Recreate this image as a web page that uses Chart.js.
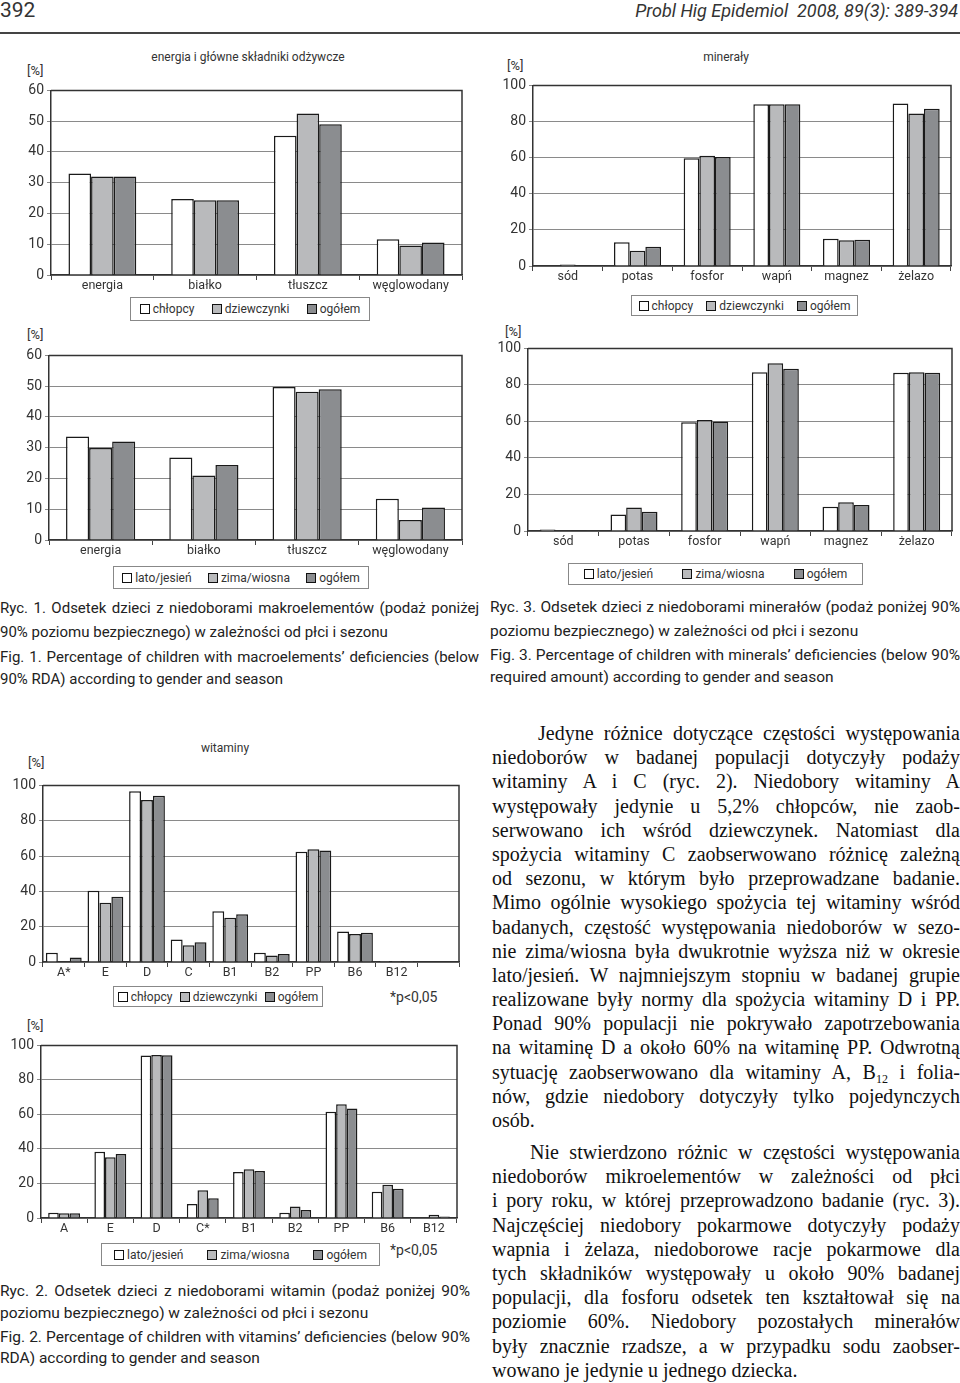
<!DOCTYPE html>
<html lang="pl">
<head>
<meta charset="utf-8">
<script src="https://cdn.jsdelivr.net/npm/chart.js@4.4.1/dist/chart.umd.min.js"></script>
<style>
  body { margin: 0; background: #fff; }
  #page { position: relative; width: 960px; height: 1383px; overflow: hidden; font-family: Roboto, sans-serif; color: #222; }
  .abs { position: absolute; }
  canvas { position: absolute; }
  .ttl { position: absolute; font-size: 12px; color: #333; transform: translate(-50%, -50%); white-space: nowrap; }
  .pct { position: absolute; font-size: 13px; color: #333; transform: translateY(-50%); }
  .lg { position: absolute; box-sizing: border-box; border: 1px solid #888; display: flex; align-items: center; justify-content: space-around; font-size: 12px; color: #333; }
  .lg .sw { display: inline-block; width: 10px; height: 10px; box-sizing: border-box; border: 1.5px solid #111; margin-right: 3px; vertical-align: -1px; }
  .cap { position: absolute; font-size: 15.5px; color: #222; }
  .cap div, .body div { height: 24px; line-height: 24px; }
  .j { text-align: justify; text-align-last: justify; }
  .body { position: absolute; left: 492px; width: 468px; font-family: "Liberation Serif", serif; font-size: 20px; color: #111; }
  .body div { height: 24.2px; line-height: 24.2px; }
  .body sub { font-size: 12px; vertical-align: -4px; line-height: 0; }
</style>
</head>
<body>
<div id="page">
  <div class="abs" style="left:0;top:-2px;font-size:21px;color:#333">392</div>
  <div class="abs" style="right:2px;top:0;font-size:18px;font-style:italic;color:#333">Probl Hig Epidemiol&nbsp;&nbsp;2008, 89(3): 389-394</div>
  <div class="abs" style="left:0;top:32px;width:960px;height:2px;background:#444"></div>

  <div class="ttl" style="left:248px;top:57px">energia i główne składniki odżywcze</div>
  <div class="ttl" style="left:726px;top:57px">minerały</div>
  <div class="ttl" style="left:225px;top:748px">witaminy</div>

  <div class="pct" style="left:27px;top:70px">[%]</div>
  <div class="pct" style="left:27px;top:334px">[%]</div>
  <div class="pct" style="left:507px;top:65px">[%]</div>
  <div class="pct" style="left:505px;top:331px">[%]</div>
  <div class="pct" style="left:28px;top:762px">[%]</div>
  <div class="pct" style="left:27px;top:1025px">[%]</div>

  <canvas id="macroGender"></canvas>
  <canvas id="macroSeason"></canvas>
  <canvas id="mineralGender"></canvas>
  <canvas id="mineralSeason"></canvas>
  <canvas id="vitGender"></canvas>
  <canvas id="vitSeason"></canvas>

  <div class="lg" id="lg1"></div>
  <div class="lg" id="lg2"></div>
  <div class="lg" id="lg3"></div>
  <div class="lg" id="lg4"></div>
  <div class="lg" id="lg5"></div>
  <div class="lg" id="lg6"></div>
  <div class="pct" style="left:390px;top:997px;font-size:14px">*p&lt;0,05</div>
  <div class="pct" style="left:390px;top:1250px;font-size:14px">*p&lt;0,05</div>

  <div class="cap" style="left:0;top:596px;width:479px;font-size:15px">
    <div class="j">Ryc. 1. Odsetek dzieci z niedoborami makroelementów (podaż poniżej</div>
    <div>90% poziomu bezpiecznego) w zależności od płci i sezonu</div>
    <div class="j" style="margin-top:1px">Fig. 1. Percentage of children with macroelements’ deficiencies (below</div>
    <div style="margin-top:-2px">90% RDA) according to gender and season</div>
  </div>
  <div class="cap" style="left:490px;top:595px;width:470px">
    <div class="j">Ryc. 3. Odsetek dzieci z niedoborami minerałów (podaż poniżej 90%</div>
    <div>poziomu bezpiecznego) w zależności od płci i sezonu</div>
    <div class="j">Fig. 3. Percentage of children with minerals’ deficiencies (below 90%</div>
    <div style="margin-top:-2px">required amount) according to gender and season</div>
  </div>
  <div class="cap" style="left:0;top:1279px;width:470px">
    <div class="j">Ryc. 2. Odsetek dzieci z niedoborami witamin (podaż poniżej 90%</div>
    <div style="margin-top:-2px">poziomu bezpiecznego) w zależności od płci i sezonu</div>
    <div class="j">Fig. 2. Percentage of children with vitamins’ deficiencies (below 90%</div>
    <div style="margin-top:-3px">RDA) according to gender and season</div>
  </div>

  <div class="body" style="top:721px">
    <div class="j" style="padding-left:46px">Jedyne różnice dotyczące częstości występowania</div>
    <div class="j">niedoborów w badanej populacji dotyczyły podaży</div>
    <div class="j">witaminy A i C (ryc. 2). Niedobory witaminy A</div>
    <div class="j">występowały jedynie u 5,2% chłopców, nie zaob-</div>
    <div class="j">serwowano ich wśród dziewczynek. Natomiast dla</div>
    <div class="j">spożycia witaminy C zaobserwowano różnicę zależną</div>
    <div class="j">od sezonu, w którym było przeprowadzane badanie.</div>
    <div class="j">Mimo ogólnie wysokiego spożycia tej witaminy wśród</div>
    <div class="j">badanych, częstość występowania niedoborów w sezo-</div>
    <div class="j">nie zima/wiosna była dwukrotnie wyższa niż w okresie</div>
    <div class="j">lato/jesień. W najmniejszym stopniu w badanej grupie</div>
    <div class="j">realizowane były normy dla spożycia witaminy D i PP.</div>
    <div class="j">Ponad 90% populacji nie pokrywało zapotrzebowania</div>
    <div class="j">na witaminę D a około 60% na witaminę PP. Odwrotną</div>
    <div class="j">sytuację zaobserwowano dla witaminy A, B<sub>12</sub> i folia-</div>
    <div class="j">nów, gdzie niedobory dotyczyły tylko pojedynczych</div>
    <div>osób.</div>
  </div>
  <div class="body" style="top:1140px">
    <div class="j" style="padding-left:38px">Nie stwierdzono różnic w częstości występowania</div>
    <div class="j">niedoborów mikroelementów w zależności od płci</div>
    <div class="j">i pory roku, w której przeprowadzono badanie (ryc. 3).</div>
    <div class="j">Najczęściej niedobory pokarmowe dotyczyły podaży</div>
    <div class="j">wapnia i żelaza, niedoborowe racje pokarmowe dla</div>
    <div class="j">tych składników występowały u około 90% badanej</div>
    <div class="j">populacji, dla fosforu odsetek ten kształtował się na</div>
    <div class="j">poziomie 60%. Niedobory pozostałych minerałów</div>
    <div class="j">były znacznie rzadsze, a w przypadku sodu zaobser-</div>
    <div>wowano je jedynie u jednego dziecka.</div>
  </div>
</div>

<script>
// categories
const macroCats = ["energia", "białko", "tłuszcz", "węglowodany"];
const mineralCats = ["sód", "potas", "fosfor", "wapń", "magnez", "żelazo"];
const vitCatsGender = ["A*", "E", "D", "C", "B1", "B2", "PP", "B6", "B12", ""];
const vitCatsSeason = ["A", "E", "D", "C*", "B1", "B2", "PP", "B6", "B12"];

// series names
const genderLabels = ["chłopcy", "dziewczynki", "ogółem"];
const seasonLabels = ["lato/jesień", "zima/wiosna", "ogółem"];

// y tick labels
const macroTicks = [0, 10, 20, 30, 40, 50, 60];
const pctTicks = [0, 20, 40, 60, 80, 100];

// macroelements [%]
const macroBoys = [33, 24.7, 45.3, 11.6];
const macroGirls = [32, 24.3, 52.5, 9.6];
const macroTotalG = [32, 24.3, 49, 10.6];
const macroSummer = [33.6, 26.8, 49.7, 13.4];
const macroWinter = [29.9, 21, 48.2, 6.5];
const macroTotalS = [32, 24.4, 49, 10.6];

// minerals [%]
const minBoys = [0, 13.1, 59.6, 89.5, 15.1, 90];
const minGirls = [0.8, 8.4, 61.1, 89.5, 14.2, 84.4];
const minTotalG = [0.4, 10.7, 60.4, 89.5, 14.5, 87.1];
const minSummer = [0.8, 9.1, 59.5, 86.9, 13.3, 86.6];
const minWinter = [0, 12.9, 60.8, 91.8, 15.8, 86.9];
const minTotalS = [0.4, 10.6, 60, 88.9, 14.3, 86.7];

// vitamins [%]
const vitBoys = [5.2, 40.3, 96.7, 12.8, 28.8, 5.2, 62.5, 17.3, 0.6];
const vitGirls = [0, 33.5, 91.8, 9.5, 25.1, 3.7, 63.9, 15.8, 0.5];
const vitTotalG = [2.6, 37, 94.2, 11.2, 27.1, 4.5, 63.2, 16.5, 0.5];
const vitSummer = [3, 38.4, 94.1, 8.1, 26.7, 3, 61.6, 15.2, 0];
const vitWinter = [2.7, 35.2, 94.5, 16.1, 28.2, 6.6, 65.9, 19.3, 1.9];
const vitTotalS = [2.8, 37.1, 94.3, 11.4, 27.3, 4.7, 63.4, 16.9, 0.9];

const fills = ["#ffffff", "#b9babc", "#8b8d90"];

Chart.defaults.font.family = "Roboto, sans-serif";
Chart.defaults.color = "#333";

// top + right frame of the plot area
const framePlugin = {
  id: "frame",
  afterDatasetsDraw(chart) {
    const { ctx, chartArea: a } = chart;
    ctx.save();
    ctx.strokeStyle = "#333";
    ctx.lineWidth = 1.5;
    ctx.beginPath();
    ctx.moveTo(a.left, a.top);
    ctx.lineTo(a.right, a.top);
    ctx.lineTo(a.right, a.bottom);
    ctx.stroke();
    ctx.restore();
  },
};

function makeChart(id, plot, cats, names, series, ticks, catPct) {
  const [L, T, R, B] = plot; // plot area on the page
  const canvas = document.getElementById(id);
  canvas.style.left = L - 46 + "px";
  canvas.style.top = T - 8 + "px";
  canvas.width = R - L + 50;
  canvas.height = B - T + 30;

  new Chart(canvas, {
    type: "bar",
    data: {
      labels: cats,
      datasets: series.map((d, i) => ({
        label: names[i],
        data: d,
        backgroundColor: fills[i],
        borderColor: "#1a1a1a",
        borderWidth: 1.5,
        barPercentage: 1,
        categoryPercentage: catPct,
      })),
    },
    options: {
      responsive: false,
      animation: false,
      layout: { padding: { top: 8, right: 4, left: 0, bottom: 0 } },
      plugins: { legend: { display: false }, tooltip: { enabled: false } },
      scales: {
        x: {
          grid: { offset: true, drawOnChartArea: false, tickLength: 5, color: "#444" },
          border: { color: "#333", width: 1.5 },
          ticks: { padding: -2, font: { size: 12.5 }, maxRotation: 0, autoSkip: false },
          afterFit: (s) => { s.height = 22; },
        },
        y: {
          min: ticks[0],
          max: ticks[ticks.length - 1],
          ticks: { stepSize: ticks[1] - ticks[0], padding: 3, font: { size: 14 } },
          grid: { color: "#8a8a8a", tickLength: 4 },
          border: { color: "#333", width: 1.5 },
          afterFit: (s) => { s.width = 46; },
        },
      },
    },
    plugins: [framePlugin],
  });
}

function makeLegend(id, names, box) {
  const el = document.getElementById(id);
  const [x, y, w, h] = box;
  Object.assign(el.style, { left: x + "px", top: y + "px", width: w + "px", height: h + "px" });
  names.forEach((n, i) => {
    const item = document.createElement("div");
    const sw = document.createElement("span");
    sw.className = "sw";
    sw.style.background = fills[i];
    item.appendChild(sw);
    item.append(n);
    el.appendChild(item);
  });
}

makeChart("macroGender", [51, 87, 462, 275], macroCats, genderLabels, [macroBoys, macroGirls, macroTotalG], macroTicks, 0.66);
makeChart("macroSeason", [49, 352, 462, 540], macroCats, seasonLabels, [macroSummer, macroWinter, macroTotalS], macroTicks, 0.67);
makeChart("mineralGender", [533, 82, 951, 266], mineralCats, genderLabels, [minBoys, minGirls, minTotalG], pctTicks, 0.675);
makeChart("mineralSeason", [528, 345, 952, 531], mineralCats, seasonLabels, [minSummer, minWinter, minTotalS], pctTicks, 0.665);
makeChart("vitGender", [43, 782, 459, 962], vitCatsGender, genderLabels, [vitBoys, vitGirls, vitTotalG], pctTicks, 0.86);
makeChart("vitSeason", [41, 1042, 457, 1218], vitCatsSeason, seasonLabels, [vitSummer, vitWinter, vitTotalS], pctTicks, 0.69);

makeLegend("lg1", genderLabels, [130, 297, 240, 24]);
makeLegend("lg2", seasonLabels, [113, 566, 256, 23]);
makeLegend("lg3", genderLabels, [631, 295, 227, 21]);
makeLegend("lg4", seasonLabels, [568, 563, 295, 22]);
makeLegend("lg5", genderLabels, [113, 986, 210, 21]);
makeLegend("lg6", seasonLabels, [101, 1243, 279, 23]);
</script>
</body>
</html>
